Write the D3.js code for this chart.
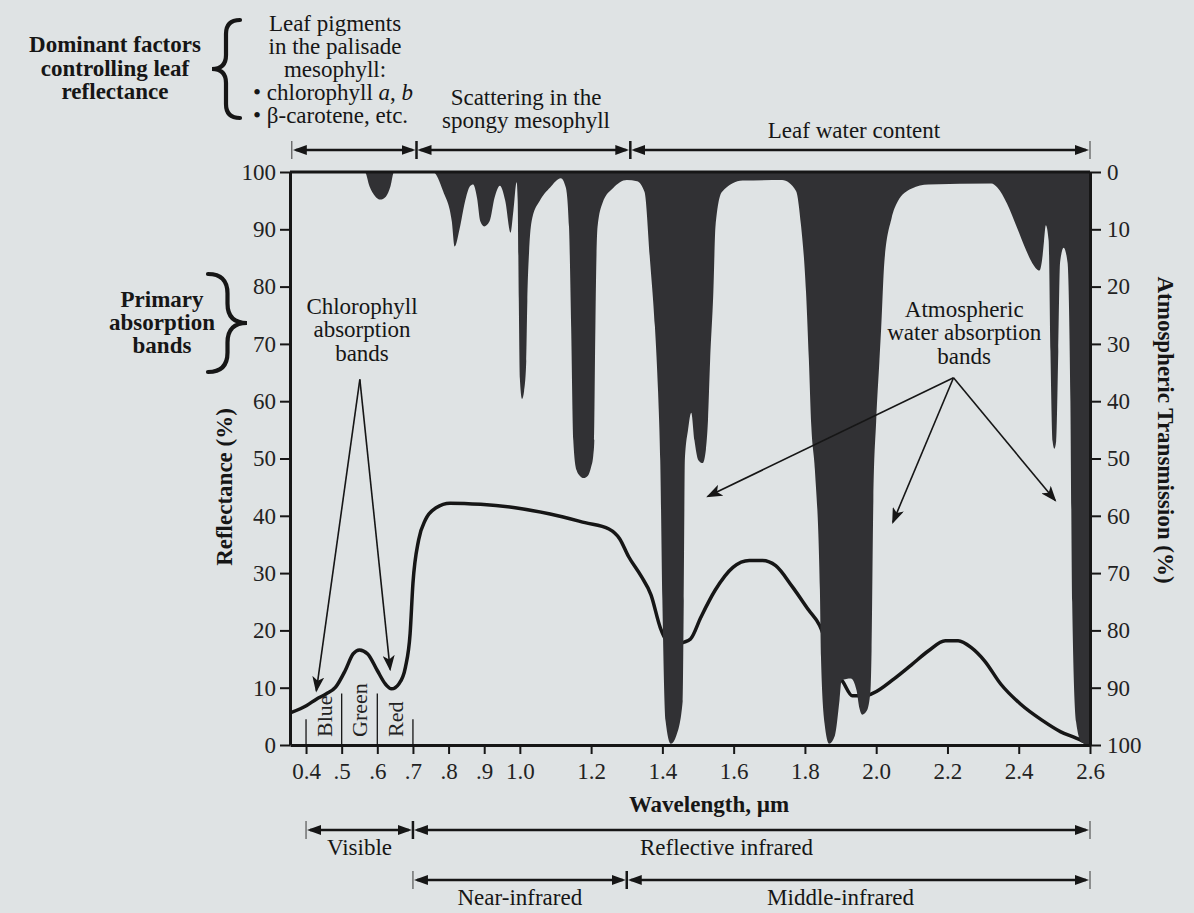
<!DOCTYPE html>
<html>
<head>
<meta charset="utf-8">
<script src="https://cdn.jsdelivr.net/npm/d3@7"></script>
<style>
  body { margin: 0; background: #dfe3e4; }
  svg { display: block; font-family: "Liberation Serif", "Times New Roman", serif; }
</style>
</head>
<body>
<svg></svg>
<script>
// leaf reflectance, [wavelength um, reflectance %] (left axis)
const reflectance = [
  [0.359, 5.7], [0.402, 6.9], [0.429, 8.0], [0.456, 8.9], [0.483, 10.1], [0.51, 13], [0.532, 15.9],
  [0.55, 16.6], [0.573, 15.9], [0.6, 13], [0.622, 10.7], [0.64, 9.8], [0.661, 10.7], [0.679, 13.6],
  [0.692, 19.4], [0.70, 28.2], [0.716, 35.8], [0.735, 39.3], [0.765, 41.4], [0.804, 42.2], [0.89, 42],
  [0.987, 41.4], [1.085, 40.3], [1.183, 38.8], [1.25, 37.7], [1.28, 36.0], [1.305, 32.9], [1.34, 29.5],
  [1.368, 26.2], [1.394, 20.5], [1.404, 19], [1.43, 17.4], [1.459, 17.9], [1.479, 18.5], [1.508, 22.3],
  [1.548, 27], [1.598, 31], [1.644, 32.2], [1.681, 32.2], [1.718, 31.3], [1.765, 27.6], [1.811, 23.5],
  [1.841, 20.9], [1.87, 16], [1.89, 12.5], [1.907, 11], [1.933, 8.6], [1.95, 8.6], [1.97, 8.6],
  [1.99, 9.0], [2.051, 11.6], [2.099, 14.0], [2.146, 16.4], [2.194, 18.2], [2.23, 18.2], [2.267, 17.0],
  [2.304, 14.7], [2.35, 10.6], [2.404, 7.2], [2.466, 4.3], [2.518, 2.3], [2.553, 1.4], [2.597, 0.2]
];

// atmospheric absorption, [wavelength um, depth on transmission axis] (0 = top)
const absorption = [
  [0.355, 0], [0.565, 0], [0.578, 2.5], [0.595, 4.3], [0.608, 4.8], [0.624, 4.3], [0.637, 2.5], [0.647, 0],
  [0.756, 0], [0.785, 3.4], [0.809, 8.6], [0.817, 13], [0.831, 9.9], [0.846, 5.2], [0.86, 2.5], [0.869, 2.2],
  [0.88, 4.6], [0.889, 8.6], [0.9, 9.5], [0.915, 8.6], [0.929, 4.5], [0.944, 2.4], [0.959, 5], [0.974, 10.6],
  [0.982, 6.7], [0.991, 1.8], [0.994, 5], [0.997, 22], [1.0, 36], [1.006, 39.6], [1.012, 38.2], [1.018, 33],
  [1.021, 22.6], [1.026, 13.8], [1.035, 8], [1.056, 5], [1.085, 2.7], [1.115, 1.1], [1.129, 2.7], [1.138, 9.6],
  [1.144, 27.1], [1.15, 46.8], [1.159, 52], [1.168, 53], [1.179, 53.4], [1.191, 53], [1.2, 51.5], [1.206, 49.5],
  [1.209, 46.8], [1.212, 27], [1.218, 9.6], [1.232, 5.4], [1.262, 2.8], [1.3, 1.4], [1.329, 1.6],
  [1.35, 3.5], [1.365, 15.2], [1.379, 26.9], [1.388, 38.5], [1.394, 50.3], [1.4, 74.8], [1.409, 95.8],
  [1.424, 99.8], [1.439, 98.4], [1.457, 92.3], [1.46, 74.8], [1.463, 50.3], [1.472, 45], [1.481, 42],
  [1.49, 46.8], [1.501, 50.3], [1.513, 50.8], [1.522, 48.5], [1.528, 43.3], [1.534, 32.8], [1.543, 21],
  [1.549, 9.5], [1.567, 3.5], [1.625, 1.5], [1.736, 1.4], [1.775, 3.3], [1.789, 9.3], [1.803, 20.8],
  [1.811, 32.6], [1.818, 44.4], [1.828, 52], [1.842, 72.8], [1.845, 84.5], [1.855, 96.2], [1.868, 99.8],
  [1.884, 98.4], [1.897, 92.2], [1.903, 88.7], [1.929, 88.4], [1.945, 90.5], [1.953, 93.6], [1.961, 94.7],
  [1.974, 94], [1.984, 90.5], [1.987, 83.5], [1.992, 57.4], [2.0, 43.4], [2.009, 33], [2.014, 27.2],
  [2.023, 15.6], [2.043, 8.1], [2.06, 5.2], [2.1, 2.9], [2.146, 2.2], [2.323, 2.0], [2.34, 2.7],
  [2.367, 5.5], [2.395, 9.7], [2.421, 13.7], [2.439, 16], [2.458, 17.2], [2.466, 15.1], [2.471, 12],
  [2.476, 9.3], [2.484, 12], [2.489, 31.3], [2.495, 47], [2.5, 48.3], [2.505, 47], [2.511, 31.3],
  [2.516, 15.8], [2.526, 13.2], [2.537, 15.8], [2.545, 40], [2.55, 75], [2.561, 96], [2.576, 99.5], [2.6, 100]
];

const pctTicks = [0, 10, 20, 30, 40, 50, 60, 70, 80, 90, 100];
const wlTicks = [0.4, 0.5, 0.6, 0.7, 0.8, 0.9, 1.0, 1.2, 1.4, 1.6, 1.8, 2.0, 2.2, 2.4, 2.6];
const wlTickLabels = ['0.4', '.5', '.6', '.7', '.8', '.9', '1.0', '1.2', '1.4', '1.6', '1.8', '2.0', '2.2', '2.4', '2.6'];
const colourEdges = [0.4, 0.5, 0.6, 0.7];
const colourNames = ['Blue', 'Green', 'Red'];
const factorEdges = [0.36, 0.71, 1.31, 2.6];
const regionEdges = [0.4, 0.7, 2.6];
const regionNames = ['Visible', 'Reflective infrared'];
const subRegionEdges = [0.7, 1.3, 2.6];
const subRegionNames = ['Near-infrared', 'Middle-infrared'];

const ink = '#161616';
const dark = '#313134';

const svg = d3.select('svg')
    .attr('width', 1194)
    .attr('height', 913);

const plotLeft = 290, plotRight = 1090, plotTop = 172, plotBottom = 745;

const x = d3.scaleLinear().domain([0.355, 2.6]).range([plotLeft, plotRight]);
const yL = d3.scaleLinear().domain([0, 100]).range([plotBottom, plotTop]);
const yR = d3.scaleLinear().domain([0, 100]).range([plotTop, plotBottom]);

// arrow heads
const defs = svg.append('defs');
defs.append('marker')
    .attr('id', 'head')
    .attr('viewBox', '0 0 14 10')
    .attr('refX', 11).attr('refY', 5)
    .attr('markerWidth', 14).attr('markerHeight', 10)
    .attr('markerUnits', 'userSpaceOnUse')
    .attr('orient', 'auto-start-reverse')
    .append('path')
    .attr('d', 'M0,0L14,5L0,10Z')
    .attr('fill', ink);
defs.append('marker')
    .attr('id', 'pointer')
    .attr('viewBox', '0 0 16 12')
    .attr('refX', 14).attr('refY', 6)
    .attr('markerWidth', 16).attr('markerHeight', 12)
    .attr('markerUnits', 'userSpaceOnUse')
    .attr('orient', 'auto')
    .append('path')
    .attr('d', 'M0,0L16,6L0,12L4,6Z')
    .attr('fill', ink);

// reflectance curve (drawn under the absorption bands)
svg.append('path')
    .datum(reflectance)
    .attr('d', d3.line().x(d => x(d[0])).y(d => yL(d[1])).curve(d3.curveMonotoneX))
    .attr('fill', 'none')
    .attr('stroke', ink)
    .attr('stroke-width', 3.5)
    .attr('stroke-linejoin', 'round');

// atmospheric absorption hanging from the top
svg.append('path')
    .datum(absorption)
    .attr('d', d3.area()
        .x(d => x(d[0]))
        .y0(yR(0))
        .y1(d => yR(d[1]))
        .curve(d3.curveMonotoneX))
    .attr('fill', dark);

// frame top
svg.append('line')
    .attr('x1', plotLeft).attr('x2', plotRight)
    .attr('y1', plotTop).attr('y2', plotTop)
    .attr('stroke', ink).attr('stroke-width', 3);

function styleAxis(g) {
    g.attr('font-family', null).attr('font-size', null);
    g.select('.domain').attr('stroke', ink).attr('stroke-width', 3);
    g.selectAll('.tick line').attr('stroke', ink).attr('stroke-width', 2);
    g.selectAll('.tick text').attr('fill', '#222').style('font-size', '23px');
}

svg.append('g')
    .attr('transform', `translate(${plotLeft},0)`)
    .call(d3.axisLeft(yL).tickValues(pctTicks).tickSize(10).tickSizeOuter(0).tickPadding(4))
    .call(styleAxis);

svg.append('g')
    .attr('transform', `translate(${plotRight},0)`)
    .call(d3.axisRight(yR).tickValues(pctTicks).tickSize(11).tickSizeOuter(0).tickPadding(6))
    .call(styleAxis);

svg.append('g')
    .attr('transform', `translate(0,${plotBottom})`)
    .call(d3.axisBottom(x).tickValues(wlTicks).tickFormat((d, i) => wlTickLabels[i])
        .tickSize(9).tickSizeOuter(0).tickPadding(9))
    .call(styleAxis);

// colour band dividers and names
const dividerTop = [4.5, 9, 9, 4.5];
svg.selectAll('.divider')
    .data(colourEdges)
    .enter()
    .append('line')
    .attr('class', 'divider')
    .attr('x1', d => x(d)).attr('x2', d => x(d))
    .attr('y1', plotBottom)
    .attr('y2', (d, i) => yL(dividerTop[i]))
    .attr('stroke', ink).attr('stroke-width', 1.3);

svg.selectAll('.colour-name')
    .data(colourNames)
    .enter()
    .append('text')
    .attr('class', 'colour-name')
    .attr('transform', (d, i) => `translate(${x((colourEdges[i] + colourEdges[i + 1]) / 2) + 8},${plotBottom - 8}) rotate(-90)`)
    .text(d => d)
    .attr('fill', '#222')
    .style('font-size', '22px');

// axis titles
svg.append('text')
    .attr('transform', 'translate(232,487) rotate(-90)')
    .attr('text-anchor', 'middle')
    .text('Reflectance (%)')
    .attr('fill', ink)
    .style('font-size', '23px')
    .style('font-weight', 'bold');

svg.append('text')
    .attr('transform', 'translate(1158,430) rotate(90)')
    .attr('text-anchor', 'middle')
    .text('Atmospheric Transmission (%)')
    .attr('fill', ink)
    .style('font-size', '23px')
    .style('font-weight', 'bold');

svg.append('text')
    .attr('x', 709).attr('y', 812)
    .attr('text-anchor', 'middle')
    .text('Wavelength, \u00b5m')
    .attr('fill', ink)
    .style('font-size', '23px')
    .style('font-weight', 'bold');

// helper for stacked centred lines
function block(lines, cx, y0, step, bold) {
    const t = svg.append('text')
        .attr('text-anchor', 'middle')
        .attr('fill', ink)
        .style('font-size', '23px')
        .style('font-weight', bold ? 'bold' : 'normal');
    t.selectAll('tspan')
        .data(lines)
        .enter()
        .append('tspan')
        .attr('x', cx)
        .attr('y', (d, i) => y0 + i * step)
        .text(d => d);
    return t;
}

// annotation arrows anchored to data positions
function pointers(label, apex, tips) {
    block(label.lines, x(label.wl), yL(label.pct), label.step, false);
    svg.selectAll(null)
        .data(tips)
        .enter()
        .append('line')
        .attr('x1', x(apex[0])).attr('y1', yL(apex[1]))
        .attr('x2', d => x(d[0])).attr('y2', d => yL(d[1]))
        .attr('stroke', ink).attr('stroke-width', 1.6)
        .attr('marker-end', 'url(#pointer)');
}

pointers({ lines: ['Chlorophyll', 'absorption', 'bands'], wl: 0.557, pct: 75.3, step: 23.5 },
    [0.551, 63.8], [[0.429, 9.5], [0.636, 13.2]]);

pointers({ lines: ['Atmospheric', 'water absorption', 'bands'], wl: 2.247, pct: 74.7, step: 23.5 },
    [2.217, 64.1], [[1.528, 43.4], [2.047, 38.9], [2.502, 42.7]]);

// span rows with double arrows
function spanRow(edges, y) {
    svg.selectAll(null)
        .data(d3.pairs(edges))
        .enter()
        .append('line')
        .attr('x1', d => x(d[0]) + 4).attr('x2', d => x(d[1]) - 4)
        .attr('y1', y).attr('y2', y)
        .attr('stroke', ink).attr('stroke-width', 2.5)
        .attr('marker-start', 'url(#head)')
        .attr('marker-end', 'url(#head)');
    svg.selectAll(null)
        .data(edges)
        .enter()
        .append('line')
        .attr('x1', d => x(d)).attr('x2', d => x(d))
        .attr('y1', y - 9).attr('y2', y + 9)
        .attr('stroke', (d, i) => (i === 0 || i === edges.length - 1) ? '#555' : ink)
        .attr('stroke-width', (d, i) => (i === 0 || i === edges.length - 1) ? 1.2 : 2.5);
}

spanRow(factorEdges, 150);
spanRow(regionEdges, 830);
spanRow(subRegionEdges, 880);

const regionLabelWl = [0.55, 1.58];
const subRegionLabelWl = [1.0, 1.9];
svg.selectAll(null)
    .data(regionNames)
    .enter()
    .append('text')
    .attr('x', (d, i) => x(regionLabelWl[i]))
    .attr('y', 855)
    .attr('text-anchor', 'middle')
    .text(d => d)
    .attr('fill', ink)
    .style('font-size', '23px');
svg.selectAll(null)
    .data(subRegionNames)
    .enter()
    .append('text')
    .attr('x', (d, i) => x(subRegionLabelWl[i]))
    .attr('y', 905)
    .attr('text-anchor', 'middle')
    .text(d => d)
    .attr('fill', ink)
    .style('font-size', '23px');

// curly braces
function brace(xBack, xTip, yTop, yBottom) {
    const xm = (xBack + xTip) / 2, ym = (yTop + yBottom) / 2, r = Math.abs(xBack - xTip) / 2;
    const p = d3.path();
    p.moveTo(xBack, yTop);
    p.quadraticCurveTo(xm, yTop, xm, yTop + r);
    p.lineTo(xm, ym - r);
    p.quadraticCurveTo(xm, ym, xTip, ym);
    p.quadraticCurveTo(xm, ym, xm, ym + r);
    p.lineTo(xm, yBottom - r);
    p.quadraticCurveTo(xm, yBottom, xBack, yBottom);
    svg.append('path')
        .attr('d', p.toString())
        .attr('fill', 'none')
        .attr('stroke', ink)
        .attr('stroke-width', 4.2)
        .attr('stroke-linecap', 'round');
}

brace(240, 212, 20, 118);
brace(208, 247, 274, 372);

// top annotations
block(['Dominant factors', 'controlling leaf', 'reflectance'], 115, 52, 23.5, true);
block(['Primary', 'absorption', 'bands'], 162, 307, 23, true);
block(['Leaf pigments', 'in the palisade', 'mesophyll:'], 335, 31, 23, false);

const pig = svg.append('text')
    .attr('fill', ink)
    .style('font-size', '23px');
pig.append('tspan').attr('x', 253).attr('y', 100).text('\u2022 chlorophyll ');
pig.append('tspan').style('font-style', 'italic').text('a');
pig.append('tspan').text(', ');
pig.append('tspan').style('font-style', 'italic').text('b');
pig.append('tspan').attr('x', 253).attr('y', 123).text('\u2022 \u03b2-carotene,  etc.');

block(['Scattering in the', 'spongy mesophyll'], 526, 105, 23, false);
block(['Leaf water content'], 854, 138, 23, false);
</script>
</body>
</html>
